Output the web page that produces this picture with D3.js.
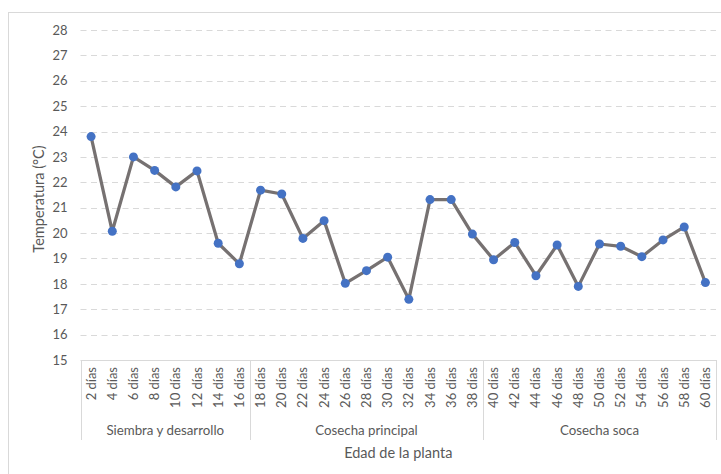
<!DOCTYPE html>
<html>
<head>
<meta charset="utf-8">
<script src="https://cdn.jsdelivr.net/npm/d3@7"></script>
<style>
  body { margin: 0; background: #fff; }
  text { font-family: Lato, "Open Sans", sans-serif; fill: #595959; }
</style>
</head>
<body>
<script>
// data
const days = ["2 días","4 días","6 días","8 días","10 días","12 días","14 días","16 días",
              "18 días","20 días","22 días","24 días","26 días","28 días","30 días","32 días","34 días","36 días","38 días",
              "40 días","42 días","44 días","46 días","48 días","50 días","52 días","54 días","56 días","58 días","60 días"];
const temps = [23.80, 20.07, 23.00, 22.47, 21.82, 22.45, 19.60, 18.79,
               21.69, 21.54, 19.79, 20.49, 18.02, 18.52, 19.05, 17.39, 21.32, 21.32, 19.96,
               18.95, 19.63, 18.32, 19.53, 17.90, 19.57, 19.48, 19.07, 19.73, 20.24, 18.05];
const groups = ["Siembra y desarrollo", "Cosecha principal", "Cosecha soca"];
const groupSizes = [8, 11, 11];
const yTicks = [15,16,17,18,19,20,21,22,23,24,25,26,27,28];

const svgWidth = 721, svgHeight = 474;
const plotLeft = 80.5, plotRight = 716, plotTop = 30, plotBottom = 360;

const svg = d3.select("body").append("svg")
  .attr("width", svgWidth)
  .attr("height", svgHeight);

// outer chart border (runs off the right/bottom edge)
svg.append("rect")
  .attr("x", 8.5).attr("y", 12.5)
  .attr("width", 800).attr("height", 600)
  .attr("fill", "none")
  .attr("stroke", "#d9d9d9");

const xScale = d3.scaleBand().domain(days).range([plotLeft, plotRight]);
const yScale = d3.scaleLinear().domain([15, 28]).range([plotBottom, plotTop]);

// gridlines
svg.append("g").selectAll("line")
  .data(yTicks.filter(d => d > 15))
  .join("line")
  .attr("x1", plotLeft).attr("x2", plotRight)
  .attr("y1", d => Math.round(yScale(d)) + 0.5)
  .attr("y2", d => Math.round(yScale(d)) + 0.5)
  .attr("stroke", "#d9d9d9")
  .attr("stroke-width", 1)
  .attr("stroke-dasharray", "6,4.5");

// y axis labels
const yAxis = d3.axisLeft(yScale).tickValues(yTicks).tickSize(0).tickPadding(13);
const gy = svg.append("g").attr("transform", "translate(" + plotLeft + ",0)").call(yAxis);
gy.select(".domain").remove();
gy.selectAll("text").style("font-size", "13px").attr("fill", "#595959")
  .style("font-family", "Lato, 'Open Sans', sans-serif");

// x axis line
svg.append("line")
  .attr("x1", plotLeft).attr("x2", plotRight)
  .attr("y1", plotBottom + 0.5).attr("y2", plotBottom + 0.5)
  .attr("stroke", "#d9d9d9");

// category labels, rotated
svg.append("g").selectAll("text")
  .data(days)
  .join("text")
  .attr("transform", d => "translate(" + (xScale(d) + xScale.bandwidth() / 2 + 4.5) + "," + (plotBottom + 7) + ") rotate(-90)")
  .attr("text-anchor", "end")
  .style("font-size", "13px")
  .text(d => d);

// group separators and labels
let start = 0;
const bounds = [0];
groupSizes.forEach(n => { start += n; bounds.push(start); });
svg.append("g").selectAll("line")
  .data(bounds)
  .join("line")
  .attr("x1", i => i < days.length ? Math.round(xScale(days[i])) + 0.5 : plotRight + 0.5)
  .attr("x2", i => i < days.length ? Math.round(xScale(days[i])) + 0.5 : plotRight + 0.5)
  .attr("y1", plotBottom)
  .attr("y2", 440)
  .attr("stroke", "#d9d9d9");

svg.append("g").selectAll("text")
  .data(groups)
  .join("text")
  .attr("x", (d, i) => {
    const a = xScale(days[bounds[i]]);
    const b = bounds[i + 1] < days.length ? xScale(days[bounds[i + 1]]) : plotRight;
    return (a + b) / 2;
  })
  .attr("y", 435)
  .attr("text-anchor", "middle")
  .style("font-size", "13.3px")
  .text(d => d);

// axis titles
svg.append("text")
  .attr("x", (plotLeft + plotRight) / 2).attr("y", 458)
  .attr("text-anchor", "middle")
  .style("font-size", "14.5px")
  .text("Edad de la planta");

svg.append("text")
  .attr("transform", "translate(44," + ((plotTop + plotBottom) / 2 + 4) + ") rotate(-90)")
  .attr("text-anchor", "middle")
  .style("font-size", "14.5px")
  .text("Temperatura (°C)");

// series
const line = d3.line()
  .x((d, i) => xScale(days[i]) + xScale.bandwidth() / 2)
  .y(d => yScale(d));

svg.append("path")
  .attr("d", line(temps))
  .attr("fill", "none")
  .attr("stroke", "#767171")
  .attr("stroke-width", 3.25)
  .attr("stroke-linejoin", "round");

svg.append("g").selectAll("circle")
  .data(temps)
  .join("circle")
  .attr("cx", (d, i) => xScale(days[i]) + xScale.bandwidth() / 2)
  .attr("cy", d => yScale(d))
  .attr("r", 4.5)
  .attr("fill", "#4472c4");
</script>
</body>
</html>
